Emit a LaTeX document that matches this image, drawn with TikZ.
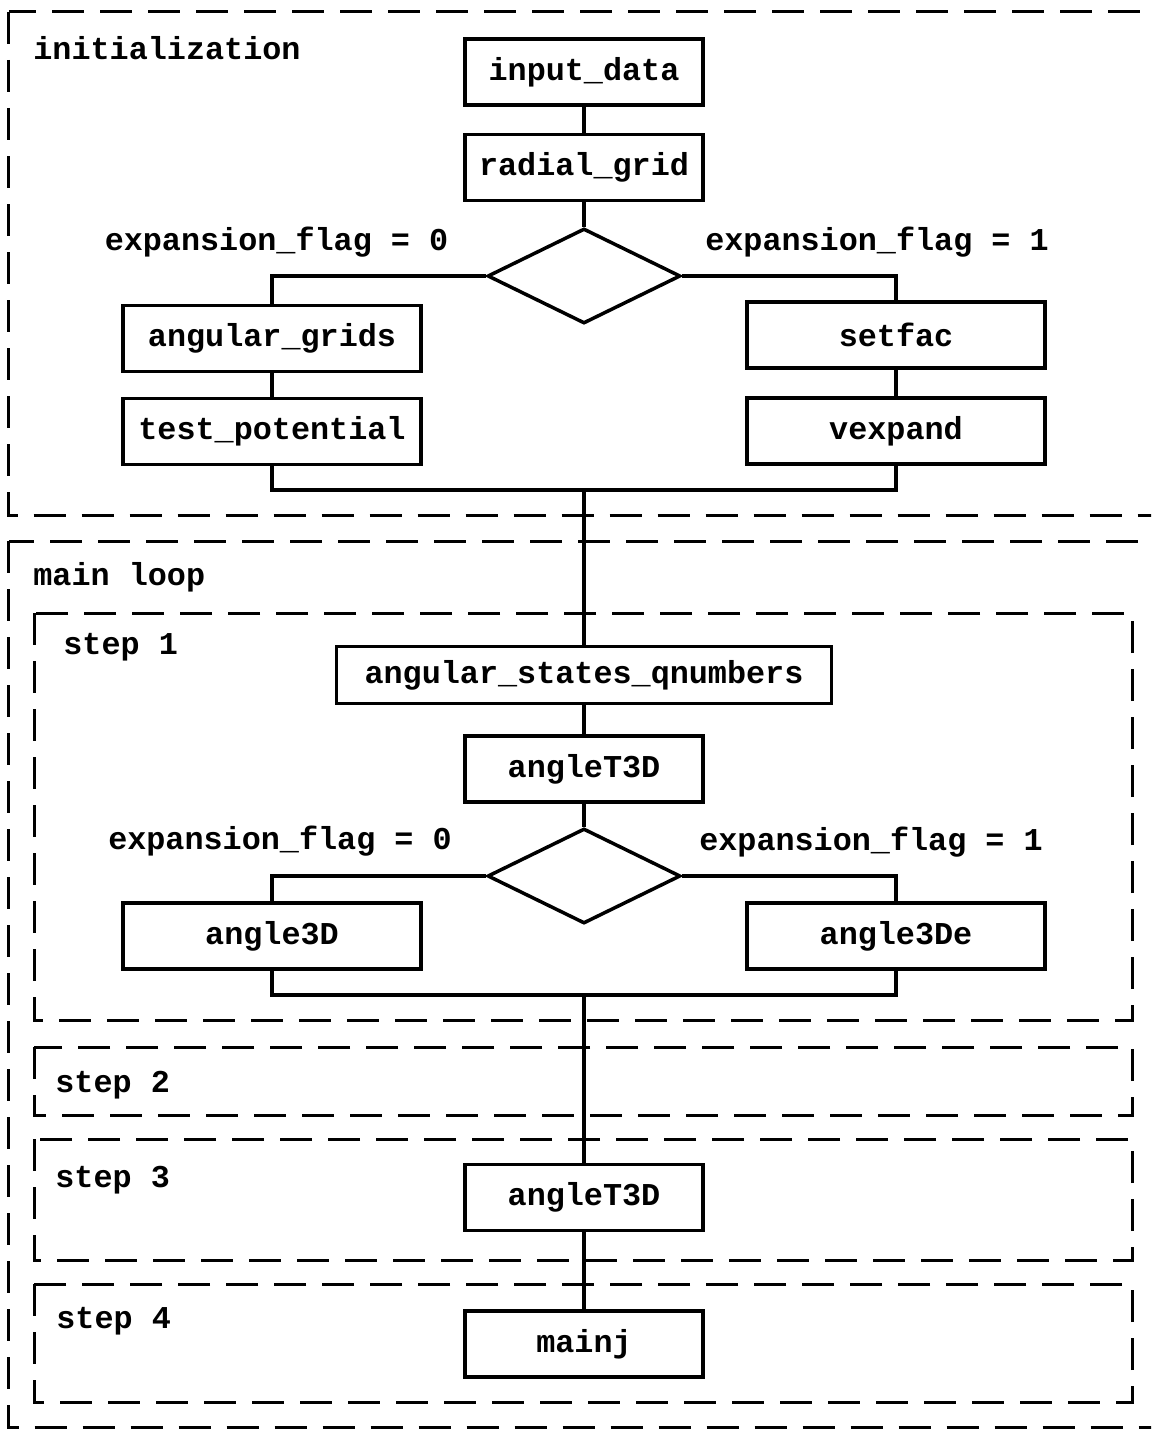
\documentclass[tikz,border=0pt]{standalone}
\usepackage{fontspec}
\setmonofont{Liberation Mono}
\usepackage{tikz}
\usetikzlibrary{positioning,shapes.geometric}

\begin{document}
\begin{tikzpicture}[x=0.5pt,y=-0.5pt,
  every node/.style={font=\fontsize{15.9}{18}\selectfont\ttfamily\bfseries},
  proc/.style={draw, line width=1.75pt, inner sep=0pt, minimum height=33pt},
  wide/.style={proc, minimum width=149pt},
  narrow/.style={proc, minimum width=119pt},
  decision/.style={draw, diamond, line width=1.75pt, inner sep=0pt, minimum width=96.5pt, minimum height=47.5pt},
  frame/.style={line width=1.5pt, dash pattern=on 16pt off 8pt},
  link/.style={line width=1.75pt},
  title/.style={anchor=west, inner sep=0pt}]
  \clip (0,0) rectangle (1151,1429);

  % Dashed frames
  \draw[frame] (8.5,12) rectangle (1175,515);   % initialization
  \draw[frame] (8.5,541) rectangle (1175,1427); % main loop
  \foreach \ya/\yb in {613/1020, 1047/1115, 1139/1260, 1284/1402}
    {\draw[frame] (34,\ya) rectangle (1132,\yb);}

  % Frame titles
  \node[title] (initlabel) at (33,48) {initialization};
  \node[title] (looplabel) at (33,577) {main loop};
  \foreach \n/\xx/\yy in {1/63/647, 2/55/1085, 3/55/1180, 4/56/1321}
    {\node[title] (step\n) at (\xx,\yy) {step \n};}

  % Initialization
  \node[narrow] (inputdata) at (584,72) {input\_data};
  \node[narrow] (radialgrid) at (584,167.5) {radial\_grid};
  \node[decision] (flagA) at (584,276) {};
  \node (flagAzero) at (276.5,242) {expansion\_flag = 0};
  \node (flagAone) at (877,242) {expansion\_flag = 1};
  \node[wide] (angulargrids) at (272,338.5) {angular\_grids};
  \node[wide] (testpotential) at (272,431.5) {test\_potential};
  \node[wide] (setfac) at (896,335) {setfac};
  \node[wide] (vexpand) at (896,431) {vexpand};
  \coordinate (joinA) at (584,490);

  % Main loop, step 1
  \node[proc, minimum width=247.5pt, minimum height=28.5pt] (angstates) at (584,675) {angular\_states\_qnumbers};
  \node[narrow] (angleTa) at (584,769) {angleT3D};
  \node[decision] (flagB) at (584,876) {};
  \node (flagBzero) at (280,841) {expansion\_flag = 0};
  \node (flagBone) at (871,842) {expansion\_flag = 1};
  \node[wide] (anglethree) at (272,936) {angle3D};
  \node[wide] (anglethreee) at (896,936) {angle3De};
  \coordinate (joinB) at (584,995);

  % Steps 3 and 4
  \node[narrow] (angleTb) at (584,1197.5) {angleT3D};
  \node[narrow] (mainj) at (584,1344) {mainj};

  % Connectors
  \draw[link] (inputdata) -- (radialgrid);
  \draw[link] (radialgrid) -- (flagA);
  \draw[link] (flagA.west) -| (angulargrids.north);
  \draw[link] (flagA.east) -| (setfac.north);
  \draw[link] (angulargrids) -- (testpotential);
  \draw[link] (setfac) -- (vexpand);
  \draw[link] (testpotential.south) |- (joinA) -| (vexpand.south);
  \draw[link] (joinA) -- (angstates.north);
  \draw[link] (angstates) -- (angleTa);
  \draw[link] (angleTa) -- (flagB);
  \draw[link] (flagB.west) -| (anglethree.north);
  \draw[link] (flagB.east) -| (anglethreee.north);
  \draw[link] (anglethree.south) |- (joinB) -| (anglethreee.south);
  \draw[link] (joinB) -- (angleTb.north);
  \draw[link] (angleTb) -- (mainj);
\end{tikzpicture}
\end{document}
